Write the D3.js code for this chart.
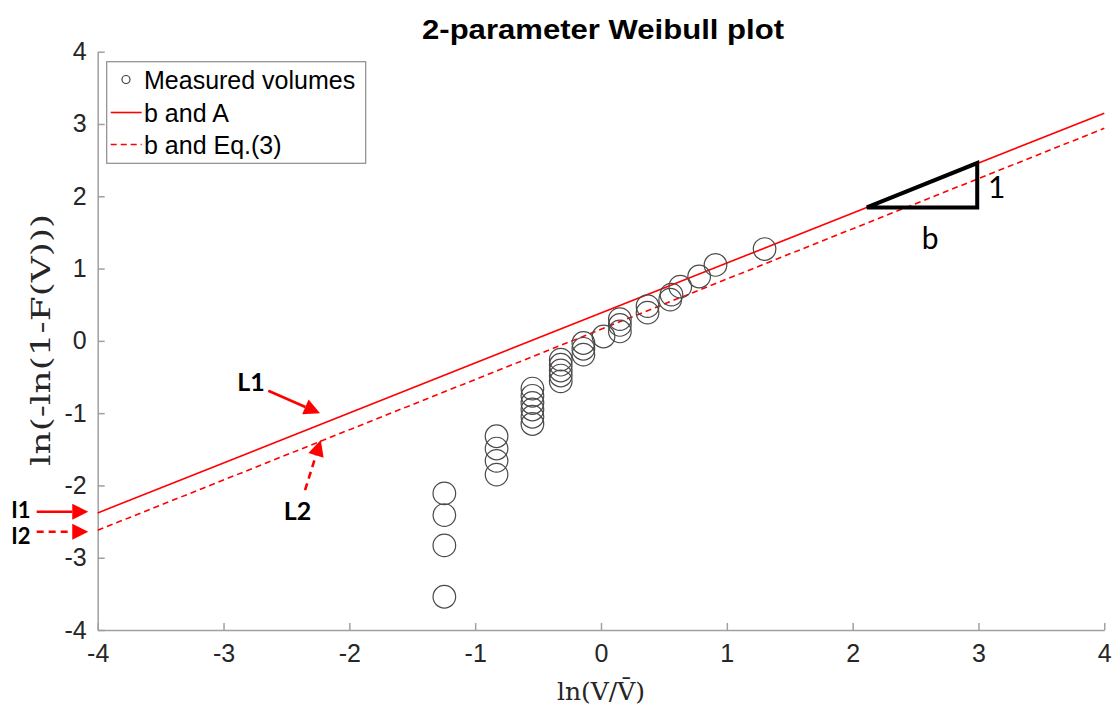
<!DOCTYPE html>
<html>
<head>
<meta charset="utf-8">
<script src="https://cdn.jsdelivr.net/npm/d3@7"></script>
<style>
  html, body { margin: 0; padding: 0; background: #fff; }
  svg { display: block; }
</style>
</head>
<body>
<svg id="chart" width="1115" height="715"></svg>
<script>
// ---------------- data ----------------
const title = "2-parameter Weibull plot";
const xTicks = [-4, -3, -2, -1, 0, 1, 2, 3, 4];
const yTicks = [-4, -3, -2, -1, 0, 1, 2, 3, 4];

// measured volumes: ln(V/Vbar) and ln(-ln(1-F(V)))
const measuredX = [-1.245, -1.245, -1.245, -1.245,
                   -0.83, -0.83, -0.83, -0.83,
                   -0.545, -0.545, -0.545, -0.545, -0.545, -0.545,
                   -0.32, -0.32, -0.32, -0.32, -0.32,
                   -0.14, -0.14, -0.14,
                   0.02,
                   0.15, 0.15, 0.15,
                   0.37, 0.37,
                   0.55, 0.56,
                   0.63, 0.78, 0.91, 1.30];
const measuredY = [-3.54, -2.83, -2.41, -2.11,
                   -1.85, -1.66, -1.49, -1.32,
                   -1.15, -1.05, -0.95, -0.86, -0.76, -0.66,
                   -0.56, -0.48, -0.41, -0.33, -0.26,
                   -0.19, -0.11, -0.03,
                   0.06,
                   0.13, 0.22, 0.30,
                   0.39, 0.48,
                   0.57, 0.64,
                   0.75, 0.89, 1.05, 1.27];

// fitted lines (endpoints)
const lineX = [-4, 4];
const lineA_Y = [-2.38, 3.15];    // b and A
const lineEq3_Y = [-2.62, 2.94];  // b and Eq.(3)

const legendLabels = ["Measured volumes", "b and A", "b and Eq.(3)"];

// slope triangle (data coords)
const triX = [2.113, 2.99, 2.99];
const triY = [1.846, 2.46, 1.846];

// ---------------- layout ----------------
const svg = d3.select("#chart");
const mLeft = 97.7, mRight = 1104.3, mTop = 51.7, mBottom = 630;
const x = d3.scaleLinear().domain([-4, 4]).range([mLeft, mRight]);
const y = d3.scaleLinear().domain([-4, 4]).range([mBottom, mTop]);

svg.append("rect").attr("width", 1115).attr("height", 715).attr("fill", "#fff");

const axisColor = "#a0a0a0";
const labelColor = "#262626";

// axes
const xAxis = svg.append("g").attr("transform", `translate(0,${mBottom})`)
  .call(d3.axisBottom(x).tickValues(xTicks).tickSizeInner(-7).tickSizeOuter(0).tickPadding(14)
    .tickFormat(d => d < 0 ? "-" + Math.abs(d) : d));
const yAxis = svg.append("g").attr("transform", `translate(${mLeft},0)`)
  .call(d3.axisLeft(y).tickValues(yTicks).tickSizeInner(-7).tickSizeOuter(0).tickPadding(11)
    .tickFormat(d => d < 0 ? "-" + Math.abs(d) : d));
[xAxis, yAxis].forEach(g => {
  g.select(".domain").attr("stroke", axisColor).attr("stroke-width", 1.5);
  g.selectAll(".tick line").attr("stroke", axisColor).attr("stroke-width", 1.5);
  g.selectAll(".tick text").attr("fill", labelColor)
    .style("font-family", "'Liberation Sans', Arial, sans-serif").style("font-size", "25px");
});
xAxis.selectAll(".tick text").attr("dy", "0.71em");

// title
svg.append("text").attr("x", 603).attr("y", 39).attr("text-anchor", "middle")
  .attr("textLength", 362).attr("lengthAdjust", "spacingAndGlyphs")
  .style("font-family", "'Liberation Sans Narrow', 'Liberation Sans', Arial, sans-serif").style("font-weight", "bold")
  .style("font-size", "27px").attr("fill", "#000").text(title);

// axis labels
svg.append("text").attr("x", 601).attr("y", 700).attr("text-anchor", "middle")
  .style("font-family", "'DejaVu Serif', 'Liberation Serif', serif").style("font-size", "25px")
  .attr("fill", labelColor).text("ln(V/V\u0304)");
svg.append("text").attr("transform", "translate(50,340) rotate(-90)").attr("text-anchor", "middle")
  .attr("textLength", 252).attr("lengthAdjust", "spacingAndGlyphs")
  .style("font-family", "'DejaVu Serif', 'Liberation Serif', serif").style("font-size", "26px")
  .attr("fill", labelColor).text("ln(-ln(1-F(V)))");

// fitted lines
const lineGen = d3.line().x(d => x(d[0])).y(d => y(d[1]));
svg.append("path").attr("d", lineGen(lineX.map((v, i) => [v, lineA_Y[i]])))
  .attr("fill", "none").attr("stroke", "#ff0000").attr("stroke-width", 1.6);
svg.append("path").attr("d", lineGen(lineX.map((v, i) => [v, lineEq3_Y[i]])))
  .attr("fill", "none").attr("stroke", "#ff0000").attr("stroke-width", 1.6)
  .attr("stroke-dasharray", "6,4");

// measured points
svg.append("g").selectAll("circle").data(measuredX.map((v, i) => [v, measuredY[i]]))
  .join("circle").attr("cx", d => x(d[0])).attr("cy", d => y(d[1])).attr("r", 11.3)
  .attr("fill", "none").attr("stroke", "#4a4a4a").attr("stroke-width", 1.2);

// slope triangle
svg.append("path").attr("d", lineGen(triX.map((v, i) => [v, triY[i]])) + "Z")
  .attr("fill", "none").attr("stroke", "#000").attr("stroke-width", 4).attr("stroke-linejoin", "miter");
svg.append("text").attr("x", x(3.145)).attr("y", y(2.127)).attr("dy", "0.36em").attr("text-anchor", "middle")
  .style("font-family", "Lato, 'Open Sans', sans-serif").style("font-size", "30px").text("1");
svg.append("text").attr("x", x(2.616)).attr("y", y(1.422)).attr("dy", "0.36em").attr("text-anchor", "middle")
  .style("font-family", "Lato, 'Open Sans', sans-serif").style("font-size", "30px").text("b");

// annotations (data coords)
function arrow(x0, y0, x1, y1, dashed) {
  const px0 = x(x0), py0 = y(y0), px1 = x(x1), py1 = y(y1);
  const ang = Math.atan2(py1 - py0, px1 - px0);
  const len = 16, hw = 8;
  const bx = px1 - len * Math.cos(ang), by = py1 - len * Math.sin(ang);
  svg.append("line").attr("x1", px0).attr("y1", py0).attr("x2", bx).attr("y2", by)
    .attr("stroke", "#ff0000").attr("stroke-width", 2.6)
    .attr("stroke-dasharray", dashed ? "7,5" : null);
  const p = [[px1, py1],
    [bx + hw * Math.sin(ang), by - hw * Math.cos(ang)],
    [bx - hw * Math.sin(ang), by + hw * Math.cos(ang)]];
  svg.append("path").attr("d", "M" + p.map(q => q.join(",")).join("L") + "Z").attr("fill", "#ff0000");
}
function annLabel(tx, ty, s, size) {
  svg.append("text").attr("x", x(tx)).attr("y", y(ty)).attr("dy", "0.36em").attr("text-anchor", "middle")
    .style("font-family", "Lato, 'Open Sans', sans-serif").style("font-weight", "bold")
    .style("font-size", size + "px").attr("fill", "#000").text(s);
}
annLabel(-2.781, -0.575, "L1", 25);
arrow(-2.644, -0.690, -2.233, -1.003, false);
annLabel(-2.412, -2.354, "L2", 25);
arrow(-2.352, -2.064, -2.227, -1.372, true);
annLabel(-4.61, -2.34, "I1", 22);
arrow(-4.485, -2.364, -4.075, -2.364, false);
annLabel(-4.61, -2.70, "I2", 22);
arrow(-4.485, -2.64, -4.075, -2.64, true);

// legend
const lg = svg.append("g");
lg.append("rect").attr("x", 106.7).attr("y", 61.7).attr("width", 259).attr("height", 101.6)
  .attr("fill", "#fff").attr("stroke", "#8c8c8c").attr("stroke-width", 1.2);
const rowY = [79.5, 112.5, 144.5];
lg.append("circle").attr("cx", 126).attr("cy", rowY[0]).attr("r", 4)
  .attr("fill", "none").attr("stroke", "#404040").attr("stroke-width", 1.2);
lg.append("line").attr("x1", 110.7).attr("x2", 141.7).attr("y1", rowY[1]).attr("y2", rowY[1])
  .attr("stroke", "#ff0000").attr("stroke-width", 1.6);
lg.append("line").attr("x1", 110.7).attr("x2", 141.7).attr("y1", rowY[2]).attr("y2", rowY[2])
  .attr("stroke", "#ff0000").attr("stroke-width", 1.6).attr("stroke-dasharray", "6,4");
legendLabels.forEach((s, i) => {
  lg.append("text").attr("x", 144).attr("y", rowY[i]).attr("dy", "0.36em")
    .style("font-family", "'Liberation Sans', Arial, sans-serif").style("font-size", "25px")
    .attr("fill", "#000").text(s);
});
</script>
</body>
</html>
